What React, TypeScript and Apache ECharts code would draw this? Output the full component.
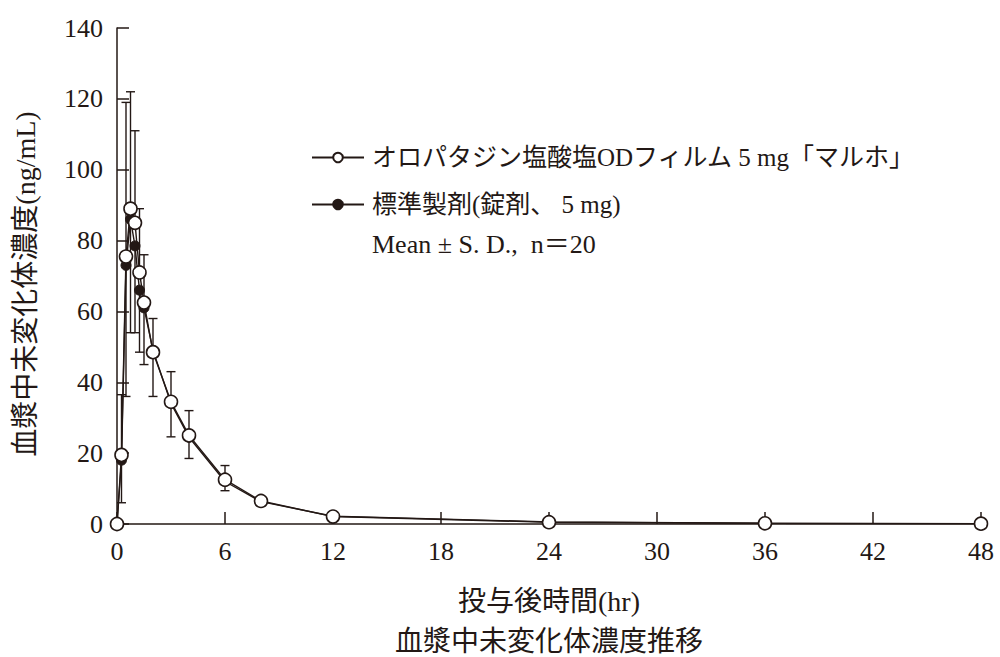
import React, { useEffect, useRef } from "react";
import * as echarts from "echarts";

const times = [0, 0.25, 0.5, 0.75, 1, 1.25, 1.5, 2, 3, 4, 6, 8, 12, 24, 36, 48];
const testMean = [0, 19.5, 75.5, 89, 85, 71, 62.5, 48.5, 34.5, 25, 12.5, 6.5, 2.1, 0.5, 0.2, 0.1];
const testSD = [0, 17, 43.5, 33, 26, 18, 13.5, 9.5, 8.5, 7, 4, 1.2, 0.5, 0.3, 0.1, 0.05];
const refMean = [0, 18, 73, 86, 78.5, 66, 61, 49, 34, 24.5, 12, 6.3, 2.2, 0.6, 0.2, 0.1];
const refSD = [0, 12, 37, 32, 24.5, 17.5, 16, 13, 9.4, 6, 2.6, 1.2, 0.5, 0.3, 0.1, 0.05];

const testName = "オロパタジン塩酸塩ODフィルム 5 mg「マルホ」";
const refName = "標準製剤(錠剤、 5 mg)";
const noteText = "Mean ± S. D.,  n＝20";
const xAxisName = "投与後時間(hr)";
const yAxisName = "血漿中未変化体濃度(ng/mL)";
const captionText = "血漿中未変化体濃度推移";

const INK = "#231815";
const FONT = "'Liberation Serif', 'Noto Sans CJK JP', serif";

function errRender(params: any, api: any) {
  const x = api.value(0);
  const from = api.value(1);
  const to = api.value(2);
  const p1 = api.coord([x, from]);
  const p2 = api.coord([x, to]);
  const w = 4.5;
  const style = { stroke: INK, lineWidth: 1.4, fill: "none" };
  return {
    type: "group",
    children: [
      { type: "line", shape: { x1: p1[0], y1: p1[1], x2: p2[0], y2: p2[1] }, style },
      { type: "line", shape: { x1: p2[0] - w, y1: p2[1], x2: p2[0] + w, y2: p2[1] }, style },
    ],
  };
}

export default function App() {
  const ref = useRef<HTMLDivElement>(null);
  useEffect(() => {
    if (!ref.current) return;
    const chart = echarts.init(ref.current, undefined, { renderer: "svg" });
    const testPts = times.map((t, i) => [t, testMean[i]]);
    const refPts = times.map((t, i) => [t, refMean[i]]);
    const testErr = times.map((t, i) => [t, testMean[i], testMean[i] + testSD[i]]);
    const refErr = times.map((t, i) => [t, refMean[i], refMean[i] - refSD[i]]);
    chart.setOption({
      animation: false,
      backgroundColor: "#ffffff",
      grid: { left: 117, right: 19, top: 28, bottom: 133, containLabel: false },
      legend: {
        orient: "vertical",
        left: 306,
        top: 140,
        itemWidth: 52,
        itemHeight: 12,
        itemGap: 22,
        data: [testName, refName],
        textStyle: { fontSize: 25, color: INK, fontFamily: FONT, padding: [0, 0, 0, 3] },
      },
      xAxis: {
        type: "value",
        min: 0,
        max: 48,
        interval: 6,
        name: xAxisName,
        nameLocation: "middle",
        nameGap: 63,
        nameTextStyle: { fontSize: 28, color: INK, fontFamily: FONT },
        axisLine: { lineStyle: { color: INK, width: 1.5 } },
        axisTick: { inside: true, length: 12, lineStyle: { color: INK, width: 1.5 } },
        axisLabel: { fontSize: 26, color: INK, fontFamily: FONT, margin: 14 },
        splitLine: { show: false },
      },
      yAxis: {
        type: "value",
        min: 0,
        max: 140,
        interval: 20,
        name: yAxisName,
        nameLocation: "middle",
        nameGap: 78,
        nameTextStyle: { fontSize: 28, color: INK, fontFamily: FONT, padding: [0, 16, 0, 0] },
        axisLine: { lineStyle: { color: INK, width: 1.5 } },
        axisTick: { inside: true, length: 12, lineStyle: { color: INK, width: 1.5 } },
        axisLabel: { fontSize: 26, color: INK, fontFamily: FONT, margin: 14 },
        splitLine: { show: false },
      },
      graphic: [
        {
          type: "text",
          left: 372,
          top: 231,
          style: { text: noteText, fontSize: 26, fill: INK, fontFamily: FONT },
        },
        {
          type: "text",
          x: 549,
          y: 641,
          style: {
            text: captionText,
            fontSize: 28,
            fill: INK,
            fontFamily: FONT,
            textAlign: "center",
            textVerticalAlign: "middle",
          },
        },
      ],
      series: [
        {
          type: "custom",
          name: "refErr",
          renderItem: errRender,
          data: refErr,
          encode: { x: 0, y: [1, 2] },
          z: 1,
        },
        {
          type: "custom",
          name: "testErr",
          renderItem: errRender,
          data: testErr,
          encode: { x: 0, y: [1, 2] },
          z: 1,
        },
        {
          type: "line",
          name: refName,
          data: refPts,
          symbol: "circle",
          symbolSize: 10,
          lineStyle: { color: INK, width: 1.4 },
          itemStyle: { color: INK, borderColor: INK, borderWidth: 1 },
          z: 2,
        },
        {
          type: "line",
          name: testName,
          data: testPts,
          symbol: "circle",
          symbolSize: 13,
          lineStyle: { color: INK, width: 1.4 },
          itemStyle: { color: "#ffffff", borderColor: INK, borderWidth: 1.6 },
          z: 3,
        },
      ],
    });
    return () => chart.dispose();
  }, []);
  return (
    <div
      ref={ref}
      style={{ position: "absolute", left: 0, top: 0, width: 1000, height: 657, background: "#fff" }}
    />
  );
}
